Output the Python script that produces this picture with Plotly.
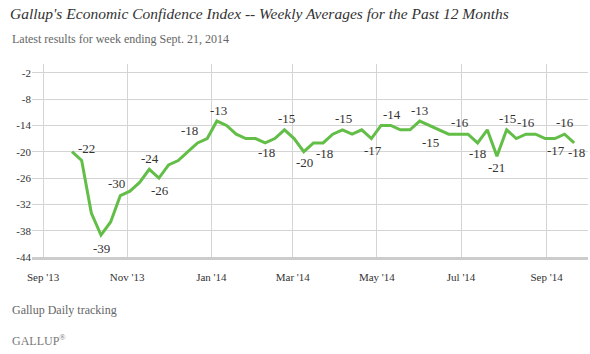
import pandas as pd
import plotly.graph_objects as go

# ---- data ----
week_ending = pd.date_range("2013-09-22", "2014-09-21", freq="7D")
eci_values = [-20, -22, -34, -39, -36, -30, -29, -27, -24, -26,
              -23, -22, -20, -18, -17, -13, -14, -16, -17, -17,
              -18, -17, -15, -17, -20, -18, -18, -16, -15, -16,
              -15, -17, -14, -14, -15, -15, -13, -14, -15, -16,
              -16, -16, -18, -15, -21, -15, -17, -16, -16, -17,
              -17, -16, -18]
# indices of labelled points
labelled_idx = [1, 3, 5, 8, 9, 13, 15, 20, 22, 24, 26, 28, 31, 33, 36, 38,
                40, 42, 44, 45, 47, 50, 51, 52]
x_tick_dates = ["2013-09-01", "2013-11-01", "2014-01-01", "2014-03-01",
                "2014-05-01", "2014-07-01", "2014-09-01"]
x_tick_text = ["Sep '13", "Nov '13", "Jan '14", "Mar '14", "May '14",
               "Jul '14", "Sep '14"]
y_tick_vals = [-2, -8, -14, -20, -26, -32, -38, -44]
y_tick_text = ["-2", "-8", "-14", "-20", "-26", "-32", "-38", "-44"]

# label offsets in pixels (style only)
label_offsets = {1: (5, -12), 3: (1, 13), 5: (-4, -12), 8: (1, -11),
                 9: (1, 12), 13: (-8, -12), 15: (2, -11), 20: (1, 10),
                 22: (2, -11), 24: (1, 11), 26: (1, 11), 28: (1, -11),
                 31: (2, 12), 33: (1, -11), 36: (0, -11), 38: (-9, 13),
                 40: (2, -12), 42: (0, 11), 44: (0, 11), 45: (1, -11),
                 47: (0, -12), 50: (1, 12), 51: (0, -12), 52: (2, 10)}

GREEN = "rgb(99,190,72)"
GRID = "#d4d4d4"
SERIF = "Liberation Serif"

W, H = 590, 354
L, R, T, B = 32, 2, 64, 97
pw, ph = W - L - R, H - T - B


def px(xp):
    return (xp - L) / pw


def py(yp):
    return (H - B - yp) / ph


fig = go.Figure()
fig.add_trace(go.Scatter(x=week_ending, y=eci_values, mode="lines",
                         line=dict(color=GREEN, width=3), hoverinfo="skip"))

annotations = []
for i in labelled_idx:
    dx, dy = label_offsets[i]
    annotations.append(dict(x=week_ending[i], y=eci_values[i], xref="x", yref="y",
                            text=str(eci_values[i]), showarrow=False,
                            xshift=dx, yshift=-dy,
                            font=dict(family=SERIF, size=13, color="#333333")))

annotations += [
    dict(x=px(10), y=py(39), xref="paper", yref="paper", xanchor="left", yanchor="middle",
         text="Latest results for week ending Sept. 21, 2014", showarrow=False,
         font=dict(family=SERIF, size=12, color="#666666")),
    dict(x=px(10), y=py(310), xref="paper", yref="paper", xanchor="left", yanchor="middle",
         text="Gallup Daily tracking", showarrow=False,
         font=dict(family=SERIF, size=12, color="#666666")),
    dict(x=px(10), y=py(340), xref="paper", yref="paper", xanchor="left", yanchor="middle",
         text="GALLUP<sup>®</sup>", showarrow=False,
         font=dict(family=SERIF, size=12, color="#777777")),
]

x_left = pd.Timestamp("2013-09-01") - pd.Timedelta(days=8)
x_right = pd.Timestamp("2014-10-01")

fig.update_layout(
    width=W, height=H,
    margin=dict(l=L, r=R, t=T, b=B),
    paper_bgcolor="white", plot_bgcolor="white",
    showlegend=False,
    title=dict(text="<i>Gallup's Economic Confidence Index -- Weekly Averages for the Past 12 Months</i>",
               x=10 / W, xanchor="left", xref="container",
               y=1 - 14 / H, yanchor="middle", yref="container",
               font=dict(family=SERIF, size=15.5, color="#333333")),
    xaxis=dict(range=[x_left, x_right], tickvals=x_tick_dates, ticktext=x_tick_text,
               showgrid=True, gridcolor=GRID, gridwidth=1, zeroline=False,
               showline=True, linecolor="#cccccc", linewidth=3, ticks="",
               ticklabelstandoff=8,
               tickfont=dict(family=SERIF, size=11, color="#333333")),
    yaxis=dict(range=[-44, 0], tickvals=y_tick_vals, ticktext=y_tick_text,
               showgrid=True, gridcolor=GRID, gridwidth=1, zeroline=False,
               showline=False, ticks="",
               tickfont=dict(family=SERIF, size=11, color="#333333")),
    annotations=annotations,
)

fig.write_html("out.html")
